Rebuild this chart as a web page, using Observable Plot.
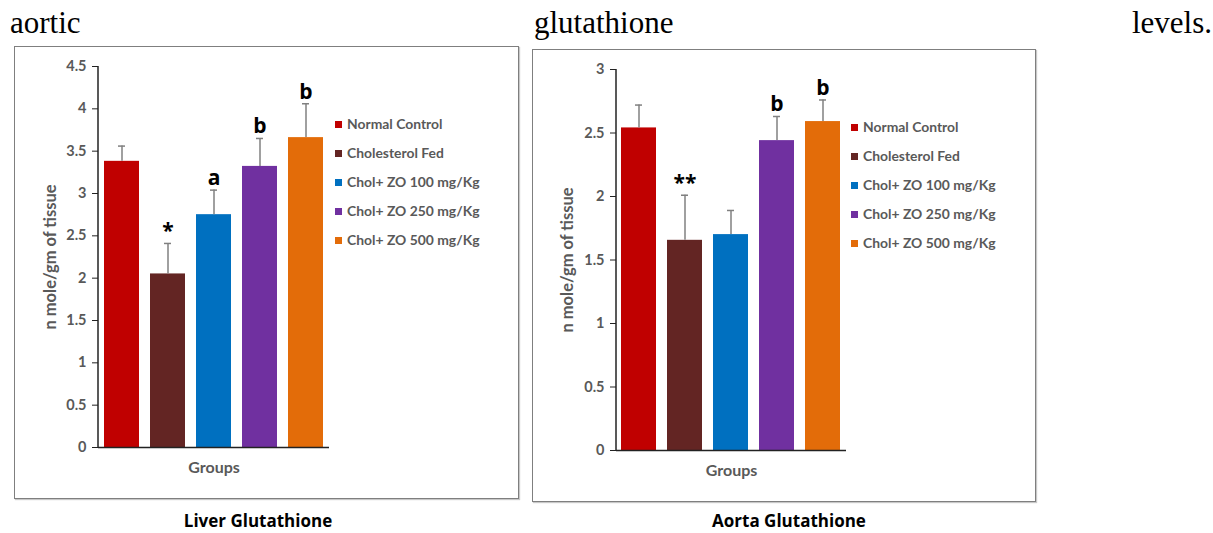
<!DOCTYPE html>
<html><head><meta charset="utf-8">
<script src="https://cdn.jsdelivr.net/npm/d3@7"></script>
<script src="https://cdn.jsdelivr.net/npm/@observablehq/plot@0.6"></script>
<style>
body{margin:0;background:#fff;}
#page{position:relative;width:1213px;height:533px;overflow:hidden;font-family:Lato,"Open Sans",sans-serif;}
.doc{position:absolute;font-family:"Liberation Serif","Times New Roman",serif;font-size:31px;line-height:31px;color:#000;top:7px;white-space:nowrap}
.panel{position:absolute;border:1.5px solid #7f7f7f;box-shadow:1px 1px 1px #c8c8c8;box-sizing:border-box;background:#fff}
.chart{position:absolute}
.legend{position:absolute;font:bold 13.9px Lato,sans-serif;color:#595959}
.legend div{height:29px;line-height:29px;white-space:nowrap}
.legend span.sw{display:inline-block;width:7px;height:7px;margin-right:5px;vertical-align:middle;position:relative;top:-1px}
.cap{position:absolute;font:bold 17px "Open Sans",sans-serif;line-height:17px;color:#000;transform:translateX(-50%);white-space:nowrap}
</style></head>
<body>
<div id="page">
  <div class="doc" style="left:10px">aortic</div>
  <div class="doc" style="left:534px">glutathione</div>
  <div class="doc" style="right:1px">levels.</div>
  <div class="panel" style="left:14px;top:46px;width:505px;height:453px"></div>
  <div class="panel" style="left:532px;top:49px;width:504px;height:453px"></div>
  <div class="chart" id="liver" style="left:14px;top:46px"></div>
  <div class="chart" id="aorta" style="left:532px;top:49px"></div>
  <div class="legend" id="legLiver" style="left:335px;top:109px"></div>
  <div class="legend" id="legAorta" style="left:851px;top:112px"></div>
  <div class="cap" id="capLiver" style="left:258px;top:512px"></div>
  <div class="cap" id="capAorta" style="left:789px;top:512px"></div>
</div>
<script>
const groups = ["Normal Control", "Cholesterol Fed", "Chol+ ZO 100 mg/Kg", "Chol+ ZO 250 mg/Kg", "Chol+ ZO 500 mg/Kg"];
const groupColors = ["#C00000", "#632523", "#0070C0", "#7030A0", "#E36C09"];

const liverMean = [3.38, 2.05, 2.75, 3.32, 3.66];
const liverErr  = [0.18, 0.36, 0.29, 0.33, 0.40];
const liverSig  = ["", "*", "a", "b", "b"];
const liverTicks = [0, 0.5, 1, 1.5, 2, 2.5, 3, 3.5, 4, 4.5];

const aortaMean = [2.54, 1.655, 1.70, 2.44, 2.59];
const aortaErr  = [0.18, 0.355, 0.19, 0.19, 0.17];
const aortaSig  = ["", "**", "", "b", "b"];
const aortaTicks = [0, 0.5, 1, 1.5, 2, 2.5, 3];

const yTitle = "n mole/gm of tissue";
const xTitle = "Groups";
const liverTitle = "Liver Glutathione";
const aortaTitle = "Aorta Glutathione";

function makeChart(mean, err, sig, ticks, opts) {
  const data = groups.map((g, i) => ({group: g, mean: mean[i], err: err[i], top: mean[i] + err[i], sig: sig[i]}));
  const mL = 84, mT = 20, mB = 39, mR = 5;
  const plot = Plot.plot({
    width: opts.width, height: 440,
    marginLeft: mL, marginRight: mR, marginTop: mT, marginBottom: mB,
    style: {background: "none", fontFamily: "Lato, sans-serif", fontWeight: "bold", fontSize: "14px", overflow: "visible"},
    x: {domain: groups, paddingInner: 0.23, paddingOuter: 0.11, axis: null},
    y: {domain: [0, ticks[ticks.length - 1]], axis: null},
    color: {domain: groups, range: groupColors},
    marks: [
      Plot.axisY(ticks, {tickSize: 6, tickPadding: 6, fill: "#595959", stroke: "#222", fontSize: 14.5, tickFormat: d => String(d), label: null}),
      Plot.barY(data, {x: "group", y: "mean", fill: "group"}),
      Plot.ruleX(data, {x: "group", y1: "mean", y2: "top", stroke: "#808080", strokeWidth: 1.5}),
      Plot.tickY(data, {x: "group", y: "top", stroke: "#808080", strokeWidth: 1.5, insetLeft: 14, insetRight: 14}),
      Plot.text(data, {x: "group", y: "top", text: "sig", lineAnchor: "bottom", dy: -5, fontSize: 21, fontWeight: "bold", fontFamily: "Open Sans, sans-serif", fill: "#000"}),
      Plot.ruleY([0], {stroke: "#222", strokeWidth: 1.5}),
      Plot.text([yTitle], {text: d => d, frameAnchor: "left", textAnchor: "middle", lineAnchor: "middle", rotate: -90, dx: opts.yTitleDx, fontSize: 16.5, fill: "#595959"}),
      Plot.text([xTitle], {text: d => d, frameAnchor: "bottom", lineAnchor: "middle", dy: 20, fontSize: 16, fill: "#595959"})
    ]
  });
  const yr = plot.scale("y").range;
  d3.select(plot).append("line")
    .attr("x1", mL).attr("x2", mL)
    .attr("y1", yr[1]).attr("y2", yr[0] + 0.75)
    .attr("stroke", "#222").attr("stroke-width", 1.5);
  return plot;
}

document.getElementById("liver").appendChild(makeChart(liverMean, liverErr, liverSig, liverTicks, {width: 320, yTitleDx: -48}));
document.getElementById("aorta").appendChild(makeChart(aortaMean, aortaErr, aortaSig, aortaTicks, {width: 319, yTitleDx: -49}));

function legend(id) {
  const el = document.getElementById(id);
  groups.forEach((g, i) => {
    const row = document.createElement("div");
    const sw = document.createElement("span");
    sw.className = "sw"; sw.style.background = groupColors[i];
    row.appendChild(sw);
    row.appendChild(document.createTextNode(g));
    el.appendChild(row);
  });
}
legend("legLiver");
legend("legAorta");
document.getElementById("capLiver").textContent = liverTitle;
document.getElementById("capAorta").textContent = aortaTitle;
</script>
</body></html>
